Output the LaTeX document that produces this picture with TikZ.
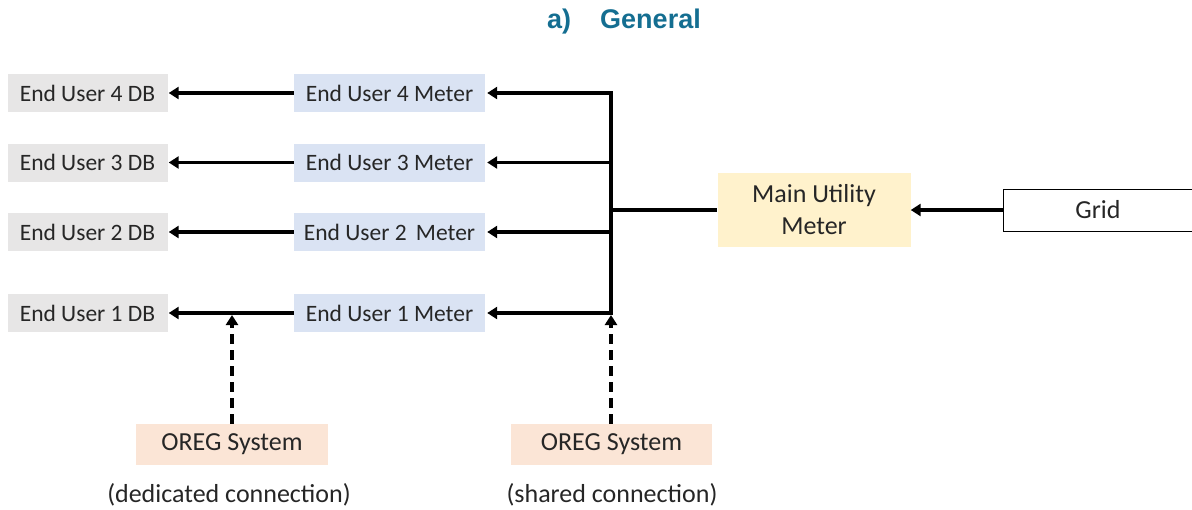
\documentclass[tikz,border=0pt]{standalone}
\usepackage{fontspec}
\setmainfont{Carlito}
\newfontfamily\titlefont{Liberation Sans}
\usetikzlibrary{arrows.meta}
\definecolor{dbgray}{HTML}{E7E6E6}
\definecolor{meterblue}{HTML}{DAE3F3}
\definecolor{mainyellow}{HTML}{FFF2CC}
\definecolor{oregpeach}{HTML}{FBE5D6}
\definecolor{titleblue}{RGB}{20,110,145}
\definecolor{txt}{HTML}{262626}
\begin{document}
\begin{tikzpicture}[x=1pt,y=-1pt,
  every node/.style={font=\fontsize{23.5}{31}\selectfont, text=txt, inner sep=0pt},
  big/.style={font=\fontsize{26}{32}\selectfont},
  dbbox/.style={fill=dbgray, minimum width=160pt, minimum height=38pt},
  meterbox/.style={fill=meterblue, minimum width=191pt, minimum height=38pt},
  mainbox/.style={big, fill=mainyellow, minimum width=193pt, minimum height=74pt, align=center},
  gridbox/.style={big, draw=black, line width=1pt, fill=white, minimum width=190pt, minimum height=42pt},
  oregbox/.style={big, fill=oregpeach, minimum height=41pt},
  wire/.style={line width=3.6pt, draw=black},
  arr/.style={wire, -{Triangle[length=10pt,width=12pt]}},
  darr/.style={arr, dash pattern=on 10pt off 6pt}
]
\useasboundingbox (0,0) rectangle (1192,509);
% title
\node[font=\fontsize{27}{32}\selectfont\titlefont\bfseries, text=titleblue] (title) at (624,22) {a)\hspace{29pt}General};
% DB boxes
\node[dbbox] (db4) at (87.5,93) {End User 4 DB};
\node[dbbox] (db3) at (87.5,162.5) {End User 3 DB};
\node[dbbox] (db2) at (87.5,232) {End User 2 DB};
\node[dbbox] (db1) at (87.5,313) {End User 1 DB};
% Meter boxes
\node[meterbox] (m4) at (389.5,93) {End User 4 Meter};
\node[meterbox] (m3) at (389.5,162.5) {End User 3 Meter};
\node[meterbox] (m2) at (389.5,232) {End User 2\, Meter};
\node[meterbox] (m1) at (389.5,313) {End User 1 Meter};
% main meter and grid
\node[mainbox] (main) at (814,210) {Main Utility\\Meter};
\node[gridbox] (grid) at (1098,210) {Grid};
% OREG
\node[oregbox, minimum width=192pt] (oregL) at (232,444.5) {OREG System};
\node[oregbox, minimum width=201pt] (oregR) at (611.5,444.5) {OREG System};
\node[big] (labL) at (229,495) {(dedicated connection)};
\node[big] (labR) at (612,495) {(shared connection)};
% bus
\coordinate (b4) at (611,93);
\coordinate (b3) at (611,162.5);
\coordinate (b2) at (611,232);
\coordinate (b1) at (611,313);
\coordinate (bm) at (611,210);
\coordinate (jL) at (232,315);
\coordinate (jR) at (611,315);
\draw[wire, line cap=rect] (b4) -- (b1);
\draw[wire] (bm) -- (main.west);
\draw[arr] (grid.west) -- (main.east);
\foreach \i in {1,2,3,4}{
  \draw[arr] (b\i) -- ([xshift=2pt]m\i.east);
  \draw[arr] (m\i.west) -- ([xshift=1pt]db\i.east);
}
\draw[darr] (oregL.north) -- (jL);
\draw[darr] (oregR.north -| jR) -- (jR);
\end{tikzpicture}
\end{document}
